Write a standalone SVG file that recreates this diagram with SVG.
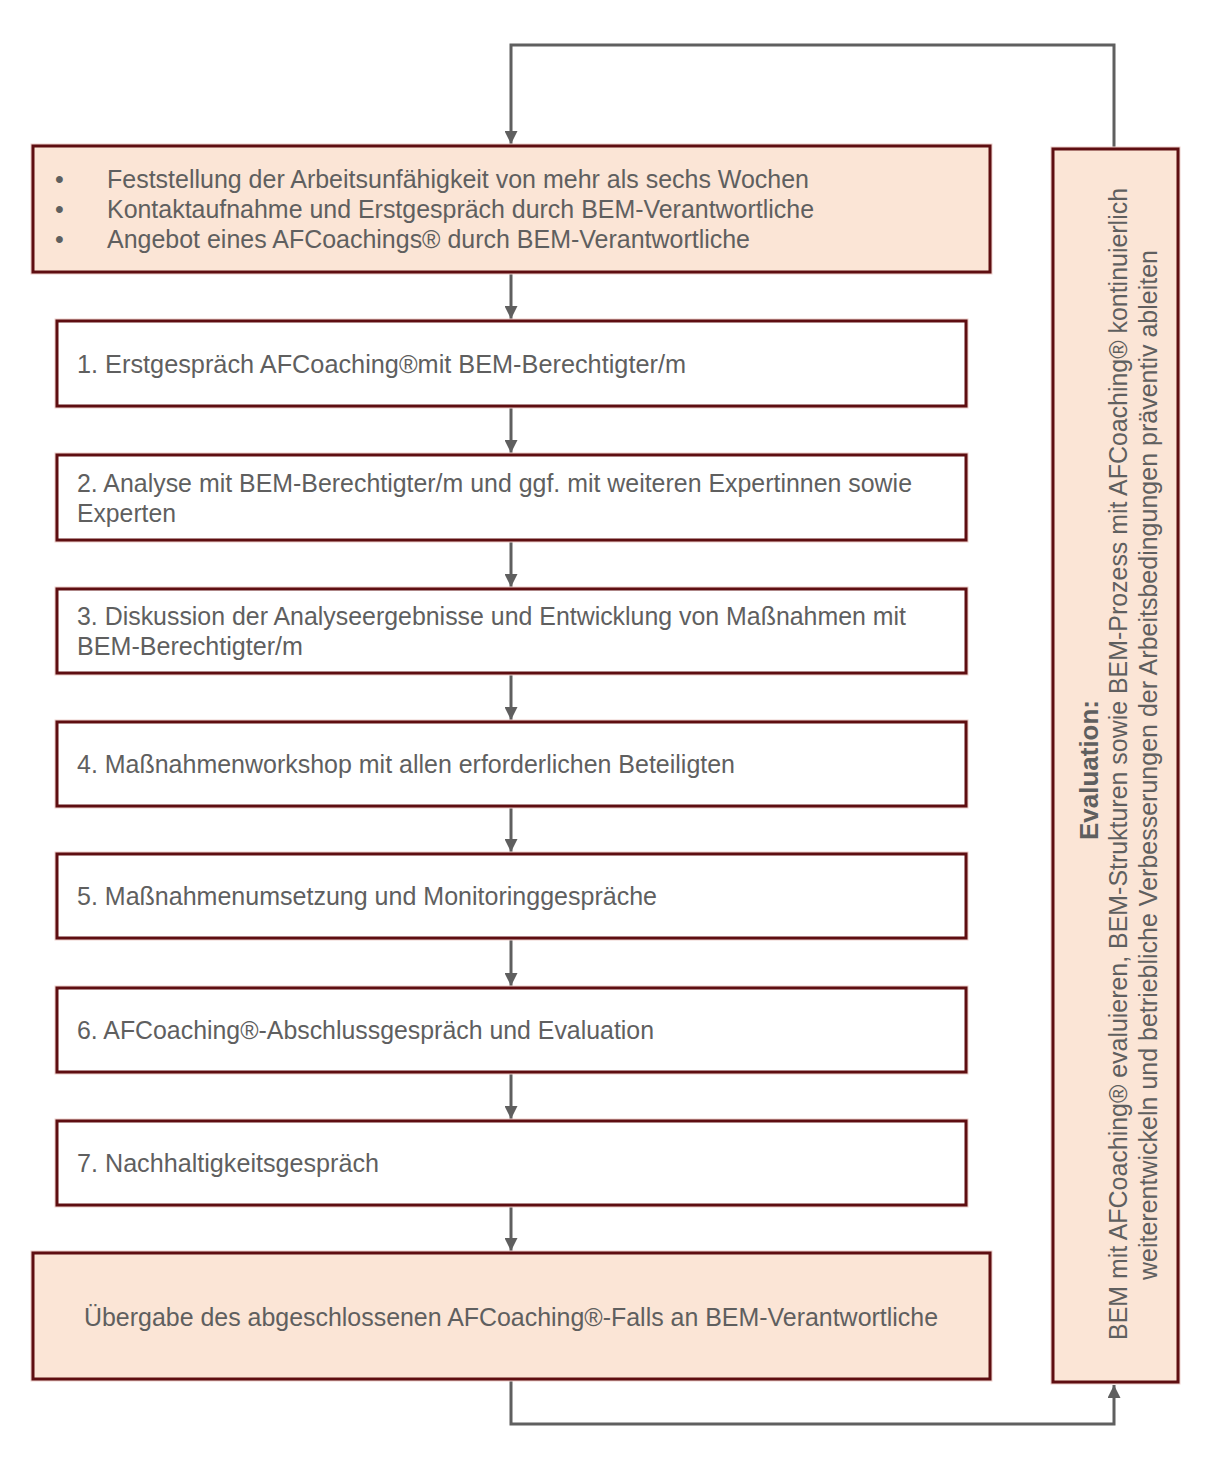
<svg xmlns="http://www.w3.org/2000/svg" width="1212" height="1472" viewBox="0 0 1212 1472">
<style>
.box{stroke:#5E0E11;stroke-width:3}
.peach{fill:#FBE5D6}
.white{fill:#FFFFFF}
.halo{fill:none;stroke:#EDCFCB;stroke-width:5}
.t{font-family:"Liberation Sans",Arial,sans-serif;font-size:25px;fill:#5F5F5F}
.b{font-weight:bold}
.con{fill:none;stroke:#5F5F5F;stroke-width:3}
</style>
<defs>
<marker id="ah" viewBox="0 0 10 10" refX="10" refY="5" markerWidth="13" markerHeight="13" markerUnits="userSpaceOnUse" orient="auto">
<path d="M0,0 L10,5 L0,10 z" fill="#5F5F5F"/>
</marker>
</defs>
<rect width="1212" height="1472" fill="#FFFFFF"/>

<g id="connectors">
<path class="con" d="M1114,149 V45 H511 V144" marker-end="url(#ah)"/>
<path class="con" d="M511,272 V319" marker-end="url(#ah)"/>
<path class="con" d="M511,406 V453" marker-end="url(#ah)"/>
<path class="con" d="M511,540 V587" marker-end="url(#ah)"/>
<path class="con" d="M511,673 V720" marker-end="url(#ah)"/>
<path class="con" d="M511,806 V852" marker-end="url(#ah)"/>
<path class="con" d="M511,938 V986" marker-end="url(#ah)"/>
<path class="con" d="M511,1072 V1119" marker-end="url(#ah)"/>
<path class="con" d="M511,1205 V1251" marker-end="url(#ah)"/>
<path class="con" d="M511,1379 V1424 H1114 V1385" marker-end="url(#ah)"/>
</g>

<g id="start">
<rect class="halo" x="33" y="146" width="957" height="126"/>
<rect class="box peach" x="33" y="146" width="957" height="126"/>
<text class="t" x="55" y="188">•</text>
<text class="t" x="55" y="218">•</text>
<text class="t" x="55" y="248">•</text>
<text class="t" x="107" y="188" textLength="702" lengthAdjust="spacingAndGlyphs">Feststellung der Arbeitsunfähigkeit von mehr als sechs Wochen</text>
<text class="t" x="107" y="218" textLength="707" lengthAdjust="spacingAndGlyphs">Kontaktaufnahme und Erstgespräch durch BEM-Verantwortliche</text>
<text class="t" x="107" y="248" textLength="643" lengthAdjust="spacingAndGlyphs">Angebot eines AFCoachings® durch BEM-Verantwortliche</text>
</g>

<g id="step1">
<rect class="halo" x="57" y="321" width="909" height="85"/>
<rect class="box white" x="57" y="321" width="909" height="85"/>
<text class="t" x="77" y="373" textLength="609" lengthAdjust="spacingAndGlyphs">1. Erstgespräch AFCoaching®mit BEM-Berechtigter/m</text>
</g>

<g id="step2">
<rect class="halo" x="57" y="455" width="909" height="85"/>
<rect class="box white" x="57" y="455" width="909" height="85"/>
<text class="t" x="77" y="492" textLength="835" lengthAdjust="spacingAndGlyphs">2. Analyse mit BEM-Berechtigter/m und ggf. mit weiteren Expertinnen sowie</text>
<text class="t" x="77" y="522" textLength="99" lengthAdjust="spacingAndGlyphs">Experten</text>
</g>

<g id="step3">
<rect class="halo" x="57" y="589" width="909" height="84"/>
<rect class="box white" x="57" y="589" width="909" height="84"/>
<text class="t" x="77" y="625" textLength="829" lengthAdjust="spacingAndGlyphs">3. Diskussion der Analyseergebnisse und Entwicklung von Maßnahmen mit</text>
<text class="t" x="77" y="655" textLength="226" lengthAdjust="spacingAndGlyphs">BEM-Berechtigter/m</text>
</g>

<g id="step4">
<rect class="halo" x="57" y="722" width="909" height="84"/>
<rect class="box white" x="57" y="722" width="909" height="84"/>
<text class="t" x="77" y="773" textLength="658" lengthAdjust="spacingAndGlyphs">4. Maßnahmenworkshop mit allen erforderlichen Beteiligten</text>
</g>

<g id="step5">
<rect class="halo" x="57" y="854" width="909" height="84"/>
<rect class="box white" x="57" y="854" width="909" height="84"/>
<text class="t" x="77" y="905" textLength="580" lengthAdjust="spacingAndGlyphs">5. Maßnahmenumsetzung und Monitoringgespräche</text>
</g>

<g id="step6">
<rect class="halo" x="57" y="988" width="909" height="84"/>
<rect class="box white" x="57" y="988" width="909" height="84"/>
<text class="t" x="77" y="1039" textLength="577" lengthAdjust="spacingAndGlyphs">6. AFCoaching®-Abschlussgespräch und Evaluation</text>
</g>

<g id="step7">
<rect class="halo" x="57" y="1121" width="909" height="84"/>
<rect class="box white" x="57" y="1121" width="909" height="84"/>
<text class="t" x="77" y="1172" textLength="302" lengthAdjust="spacingAndGlyphs">7. Nachhaltigkeitsgespräch</text>
</g>

<g id="end">
<rect class="halo" x="33" y="1253" width="957" height="126"/>
<rect class="box peach" x="33" y="1253" width="957" height="126"/>
<text class="t" x="84" y="1326" textLength="854" lengthAdjust="spacingAndGlyphs">Übergabe des abgeschlossenen AFCoaching®-Falls an BEM-Verantwortliche</text>
</g>

<g id="evaluation">
<rect class="halo" x="1053" y="149" width="125" height="1233"/>
<rect class="box peach" x="1053" y="149" width="125" height="1233"/>
<text class="t b" transform="translate(1098,840) rotate(-90)" textLength="140" lengthAdjust="spacingAndGlyphs">Evaluation:</text>
<text class="t" transform="translate(1127,1340) rotate(-90)" textLength="1152" lengthAdjust="spacingAndGlyphs">BEM mit AFCoaching® evaluieren, BEM-Strukturen sowie BEM-Prozess mit AFCoaching® kontinuierlich</text>
<text class="t" transform="translate(1157,1280) rotate(-90)" textLength="1030" lengthAdjust="spacingAndGlyphs">weiterentwickeln und betriebliche Verbesserungen der Arbeitsbedingungen präventiv ableiten</text>
</g>
</svg>
